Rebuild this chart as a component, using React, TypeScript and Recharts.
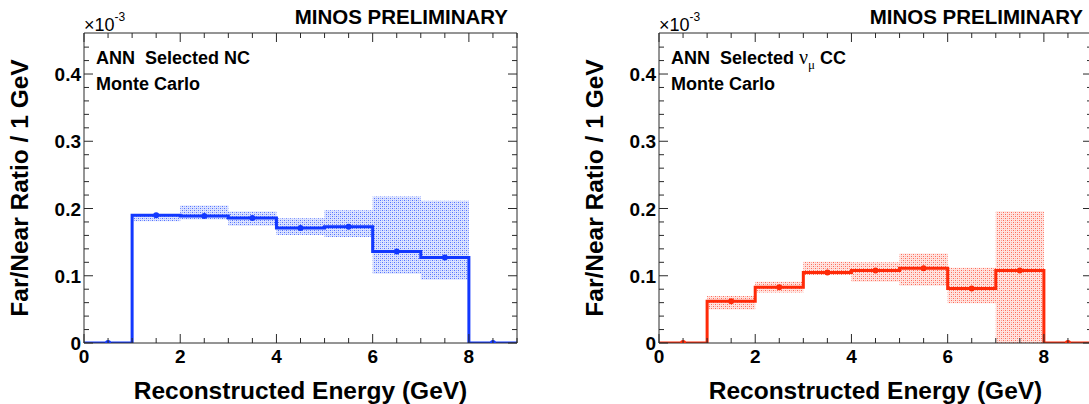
import React from 'react';
import { ComposedChart, Line, Area, Scatter, XAxis, YAxis } from 'recharts';

// ---------- data ----------
const binEdges = [0, 1, 2, 3, 4, 5, 6, 7, 8, 9];
const binCenters = [0.5, 1.5, 2.5, 3.5, 4.5, 5.5, 6.5, 7.5, 8.5];

const ncValues = [0, 0.19, 0.189, 0.186, 0.171, 0.173, 0.136, 0.127, 0];
const ncBandLow = [null, 0.181, 0.1835, 0.1745, 0.1605, 0.1575, 0.103, 0.094, null];
const ncBandHigh = [null, 0.191, 0.2045, 0.1955, 0.1855, 0.1975, 0.218, 0.2115, null];

const ccValues = [0, 0.062, 0.083, 0.105, 0.108, 0.111, 0.081, 0.108, 0];
const ccBandLow = [null, 0.05, 0.075, 0.101, 0.091, 0.085, 0.059, 0.0, null];
const ccBandHigh = [null, 0.07, 0.091, 0.121, 0.12, 0.133, 0.112, 0.196, null];

const xTicks = [0, 0.5, 1, 1.5, 2, 2.5, 3, 3.5, 4, 4.5, 5, 5.5, 6, 6.5, 7, 7.5, 8, 8.5, 9];
const xMajorTicks = [0, 2, 4, 6, 8];
const yTicks = [0, 0.02, 0.04, 0.06, 0.08, 0.1, 0.12, 0.14, 0.16, 0.18, 0.2, 0.22, 0.24, 0.26, 0.28, 0.3, 0.32, 0.34, 0.36, 0.38, 0.4, 0.42, 0.44];
const yMajorTicks = [0, 0.1, 0.2, 0.3, 0.4];
const yTickLabels = ['0', '0.1', '0.2', '0.3', '0.4'];

const xDomain = [0, 9];
const yDomain = [0, 0.461];

const title = 'MINOS PRELIMINARY';
const xTitle = 'Reconstructed Energy (GeV)';
const yTitle = 'Far/Near Ratio / 1 GeV';

// ---------- style ----------
const FONT = '"Liberation Sans", Arial, Helvetica, sans-serif';
const SERIF = '"Liberation Serif", "DejaVu Serif", serif';
const AXIS = '#2a2a2a';
const BLUE = '#1238ff';
const RED = '#ff2a08';
const CHART_W = 545;
const CHART_H = 404;
const MARGIN = { top: 32, left: 83, right: 27, bottom: 60 };
const PANEL_SHIFT = 575;

const isOn = (v: number, list: number[]) => list.findIndex((t) => Math.abs(t - v) < 1e-9);

function stepData(values: number[]) {
  return binEdges.map((e, i) => ({ x: e, y: values[Math.min(i, values.length - 1)] }));
}
function bandData(low: (number | null)[], high: (number | null)[]) {
  return binEdges.map((e, i) => {
    let k = -1;
    if (low[i] != null) k = i;
    else if (i > 0 && low[i - 1] != null) k = i - 1;
    return { x: e, band: k >= 0 ? [low[k], high[k]] : null };
  });
}
function pointData(values: number[]) {
  return binCenters.map((c, i) => ({ x: c, y: values[i] }));
}

const BottomTick = (props: any) => {
  const { x, y, payload } = props;
  const major = isOn(payload.value, xMajorTicks) >= 0;
  return (
    <g>
      <line x1={x} x2={x} y1={y} y2={y - (major ? 9 : 5)} stroke={AXIS} strokeWidth={1} />
      {major && (
        <text x={x} y={y + 20} textAnchor="middle" fontSize={19} fontWeight="bold" fill="#000" fontFamily={FONT}>
          {String(payload.value)}
        </text>
      )}
    </g>
  );
};
const TopTick = (props: any) => {
  const { x, y, payload } = props;
  const major = isOn(payload.value, xMajorTicks) >= 0;
  return <line x1={x} x2={x} y1={y} y2={y + (major ? 9 : 5)} stroke={AXIS} strokeWidth={1} />;
};
const LeftTick = (props: any) => {
  const { x, y, payload } = props;
  const idx = isOn(payload.value, yMajorTicks);
  const major = idx >= 0;
  return (
    <g>
      <line x1={x} x2={x + (major ? 9 : 5)} y1={y} y2={y} stroke={AXIS} strokeWidth={1} />
      {major && (
        <text x={x - 3} y={y + 7} textAnchor="end" fontSize={19} fontWeight="bold" fill="#000" fontFamily={FONT}>
          {yTickLabels[idx]}
        </text>
      )}
    </g>
  );
};
const RightTick = (props: any) => {
  const { x, y, payload } = props;
  const major = isOn(payload.value, yMajorTicks) >= 0;
  return <line x1={x} x2={x - (major ? 9 : 5)} y1={y} y2={y} stroke={AXIS} strokeWidth={1} />;
};

const Dot = (color: string) => (props: any) => {
  const { cx, cy } = props;
  return <circle cx={cx} cy={cy} r={3} fill={color} />;
};

function Panel({ values, low, high, color, hatch, dark, light, left }: any) {
  return (
    <div style={{ position: 'absolute', left, top: 0, width: CHART_W, height: CHART_H }}>
      <ComposedChart width={CHART_W} height={CHART_H} margin={MARGIN}>
        <defs>
          <pattern id={hatch} patternUnits="userSpaceOnUse" x={0} y={0} width={4} height={4}>
            <rect x={0} y={0} width={4} height={4} fill={light} />
            <rect x={0} y={0} width={1} height={1} fill={dark} fillOpacity={0.8} />
            <rect x={2} y={2} width={1} height={1} fill={dark} fillOpacity={0.8} />
            <rect x={2} y={0} width={1} height={1} fill={dark} fillOpacity={0.4} />
            <rect x={0} y={2} width={1} height={1} fill={dark} fillOpacity={0.4} />
          </pattern>
        </defs>
        <XAxis
          type="number"
          dataKey="x"
          domain={xDomain}
          ticks={xTicks}
          interval={0}
          allowDataOverflow
          height={1}
          tickSize={0}
          tickMargin={0}
          tickLine={false}
          axisLine={{ stroke: AXIS, strokeWidth: 1 }}
          tick={(p: any) => <BottomTick {...p} />}
        />
        <XAxis
          xAxisId="top"
          orientation="top"
          type="number"
          dataKey="x"
          domain={xDomain}
          ticks={xTicks}
          interval={0}
          allowDataOverflow
          height={1}
          tickSize={0}
          tickMargin={0}
          tickLine={false}
          axisLine={{ stroke: AXIS, strokeWidth: 1 }}
          tick={(p: any) => <TopTick {...p} />}
        />
        <YAxis
          type="number"
          domain={yDomain}
          ticks={yTicks}
          interval={0}
          allowDataOverflow
          width={1}
          tickSize={0}
          tickMargin={0}
          tickLine={false}
          axisLine={{ stroke: AXIS, strokeWidth: 1 }}
          tick={(p: any) => <LeftTick {...p} />}
        />
        <YAxis
          yAxisId="right"
          orientation="right"
          type="number"
          domain={yDomain}
          ticks={yTicks}
          interval={0}
          allowDataOverflow
          width={1}
          tickSize={0}
          tickMargin={0}
          tickLine={false}
          axisLine={{ stroke: AXIS, strokeWidth: 1 }}
          tick={(p: any) => <RightTick {...p} />}
        />
        <Area
          data={bandData(low, high)}
          dataKey="band"
          type="stepAfter"
          stroke="none"
          fill={`url(#${hatch})`}
          fillOpacity={1}
          isAnimationActive={false}
          connectNulls={false}
          dot={false}
          activeDot={false}
        />
        <Line
          data={stepData(values)}
          dataKey="y"
          type="stepAfter"
          stroke={color}
          strokeWidth={3}
          dot={false}
          activeDot={false}
          isAnimationActive={false}
        />
        <Scatter data={pointData(values)} dataKey="y" fill={color} shape={Dot(color)} isAnimationActive={false} />
      </ComposedChart>
    </div>
  );
}

function PanelText({ left, label }: any) {
  const px = left + MARGIN.left + 1;
  const plotW = CHART_W - MARGIN.left - MARGIN.right - 2;
  return (
    <g fontFamily={FONT} fill="#000">
      <text x={px + 424} y={24} textAnchor="end" fontSize={20.5} fontWeight="bold">{title}</text>
      <text x={px} y={31} fontSize={18}>
        ×10<tspan dy={-10} fontSize={12}>-3</tspan>
      </text>
      <text x={px + 12} y={64} fontSize={18} fontWeight="bold" style={{ whiteSpace: 'pre' }}>{label}</text>
      <text x={px + 12} y={90} fontSize={18} fontWeight="bold">Monte Carlo</text>
      <text
        x={px - 56}
        y={188}
        transform={`rotate(-90, ${px - 56}, 188)`}
        textAnchor="middle"
        fontSize={24.5}
        fontWeight="bold"
      >
        {yTitle}
      </text>
      <text x={px + plotW / 2} y={399} textAnchor="middle" fontSize={24.5} fontWeight="bold">{xTitle}</text>
    </g>
  );
}

export default function App() {
  return (
    <div style={{ position: 'absolute', left: 0, top: 0, width: 1089, height: 404, overflow: 'hidden', background: '#fff' }}>
      <Panel values={ncValues} low={ncBandLow} high={ncBandHigh} color={BLUE} hatch="ncHatch" dark="#2f55ff" light="#dce3ff" left={0} />
      <Panel values={ccValues} low={ccBandLow} high={ccBandHigh} color={RED} hatch="ccHatch" dark="#ff4a34" light="#ffe4e0" left={PANEL_SHIFT} />
      <svg width={1089} height={404} style={{ position: 'absolute', left: 0, top: 0, pointerEvents: 'none' }}>
        <PanelText left={0} label="ANN  Selected NC" />
        <PanelText
          left={PANEL_SHIFT}
          label={
            <>
              ANN  Selected <tspan fontWeight="normal" fontSize={20} fontFamily={SERIF}>ν</tspan>
              <tspan fontWeight="normal" fontSize={13} dy={5} fontFamily={SERIF}>μ</tspan>
              <tspan dy={-5}> CC</tspan>
            </>
          }
        />
      </svg>
    </div>
  );
}
